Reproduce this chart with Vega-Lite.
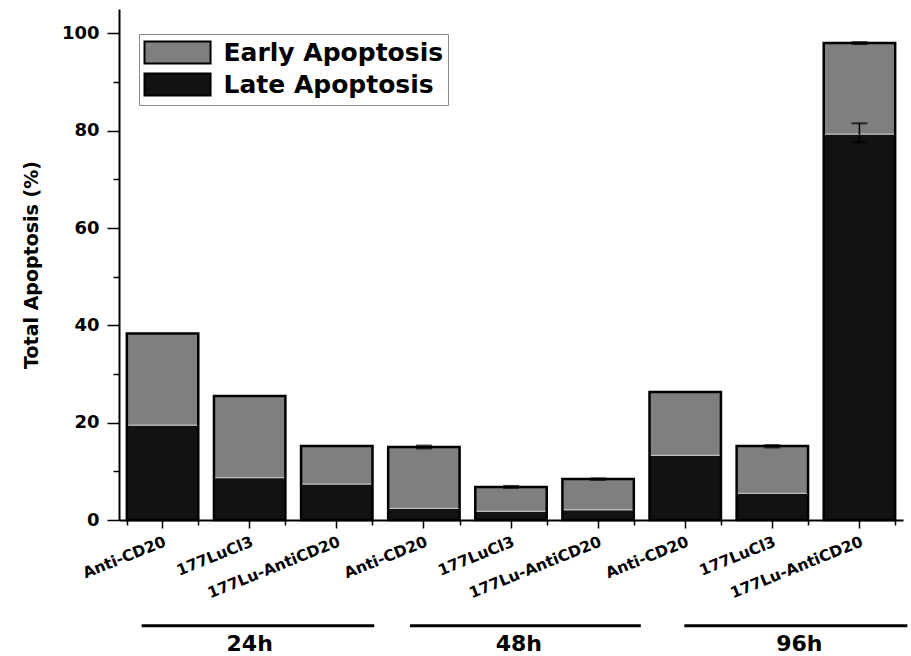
{
  "$schema": "https://vega.github.io/schema/vega-lite/v6.json",
  "padding": {"left": 22, "top": 9, "right": 0, "bottom": 0},
  "background": "white",
  "spacing": 0,
  "config": {
    "view": {"stroke": null},
    "font": "DejaVu Sans",
    "axis": {"domainColor": "black", "tickColor": "black", "labelColor": "black", "titleColor": "black", "labelFont": "DejaVu Sans", "titleFont": "DejaVu Sans", "labelFontWeight": "bold", "titleFontWeight": "bold", "grid": false, "domainWidth": 2, "tickWidth": 1.5}
  },
  "datasets": {
    "segments": [
      {"bar": "Anti-CD20|24h", "type": "Late Apoptosis", "value": 19.5},
      {"bar": "Anti-CD20|24h", "type": "Early Apoptosis", "value": 18.8},
      {"bar": "177LuCl3|24h", "type": "Late Apoptosis", "value": 8.7},
      {"bar": "177LuCl3|24h", "type": "Early Apoptosis", "value": 16.8},
      {"bar": "177Lu-AntiCD20|24h", "type": "Late Apoptosis", "value": 7.4},
      {"bar": "177Lu-AntiCD20|24h", "type": "Early Apoptosis", "value": 7.8},
      {"bar": "Anti-CD20|48h", "type": "Late Apoptosis", "value": 2.4},
      {"bar": "Anti-CD20|48h", "type": "Early Apoptosis", "value": 12.6},
      {"bar": "177LuCl3|48h", "type": "Late Apoptosis", "value": 1.8},
      {"bar": "177LuCl3|48h", "type": "Early Apoptosis", "value": 5.0},
      {"bar": "177Lu-AntiCD20|48h", "type": "Late Apoptosis", "value": 2.1},
      {"bar": "177Lu-AntiCD20|48h", "type": "Early Apoptosis", "value": 6.3},
      {"bar": "Anti-CD20|96h", "type": "Late Apoptosis", "value": 13.3},
      {"bar": "Anti-CD20|96h", "type": "Early Apoptosis", "value": 13.0},
      {"bar": "177LuCl3|96h", "type": "Late Apoptosis", "value": 5.5},
      {"bar": "177LuCl3|96h", "type": "Early Apoptosis", "value": 9.7},
      {"bar": "177Lu-AntiCD20|96h", "type": "Late Apoptosis", "value": 79.3},
      {"bar": "177Lu-AntiCD20|96h", "type": "Early Apoptosis", "value": 18.7}
    ],
    "errors": [
      {"bar": "Anti-CD20|48h", "lo": 14.7, "hi": 15.3},
      {"bar": "177LuCl3|48h", "lo": 6.6, "hi": 7.0},
      {"bar": "177Lu-AntiCD20|48h", "lo": 8.25, "hi": 8.55},
      {"bar": "177LuCl3|96h", "lo": 14.9, "hi": 15.4},
      {"bar": "177Lu-AntiCD20|96h", "lo": 97.8, "hi": 98.2},
      {"bar": "177Lu-AntiCD20|96h", "lo": 77.6, "hi": 81.5}
    ],
    "groups": [
      {"group": "24h", "start": 0.26, "end": 2.93, "mid": 1.5},
      {"group": "48h", "start": 3.34, "end": 5.99, "mid": 4.59},
      {"group": "96h", "start": 6.49, "end": 9.05, "mid": 7.81}
    ]
  },
  "vconcat": [
    {
      "width": 784,
      "height": 511,
      "resolve": {"axis": {"x": "independent", "y": "independent"}},
      "layer": [
        {
          "data": {"name": "segments"},
          "mark": {"type": "bar", "stroke": "#c8c8c8", "strokeWidth": 1},
          "encoding": {
            "x": {
              "field": "bar", "type": "nominal",
              "scale": {"domain": ["Anti-CD20|24h", "177LuCl3|24h", "177Lu-AntiCD20|24h", "Anti-CD20|48h", "177LuCl3|48h", "177Lu-AntiCD20|48h", "Anti-CD20|96h", "177LuCl3|96h", "177Lu-AntiCD20|96h"], "paddingInner": 0.18, "paddingOuter": 0.09},
              "axis": {"orient": "bottom", "title": null, "labelExpr": "split(datum.label, '|')[0]", "labelAngle": -22, "labelFontSize": 15.5, "tickSize": 8, "labelPadding": 6, "domainWidth": 2}
            },
            "y": {
              "field": "value", "type": "quantitative", "stack": "zero", "title": "Total Apoptosis (%)",
              "scale": {"domain": [0, 105], "nice": false},
              "axis": {"orient": "left", "title": "Total Apoptosis (%)", "titleFontSize": 19, "titlePadding": 20, "values": [0, 20, 40, 60, 80, 100], "labelFontSize": 18, "tickSize": 12, "labelPadding": 8}
            },
            "color": {
              "field": "type", "type": "nominal",
              "scale": {"domain": ["Early Apoptosis", "Late Apoptosis"], "range": ["#7f7f7f", "#121212"]},
              "legend": {
                "title": null, "orient": "none", "legendX": 20, "legendY": 25,
                "symbolType": "M-1,-0.85H4.08V0.85H-1Z", "symbolSize": 676, "symbolStrokeColor": "black", "symbolStrokeWidth": 2, "symbolOpacity": 1,
                "labelFontSize": 25, "labelFont": "DejaVu Sans", "labelFontWeight": "bold", "labelColor": "black", "labelOffset": 52, "labelLimit": 500,
                "rowPadding": 0, "padding": 4.5, "strokeColor": "#8a8a8a", "fillColor": "white", "cornerRadius": 0
              }
            },
            "order": {"field": "type", "sort": "descending"}
          }
        },
        {
          "data": {"name": "segments"},
          "mark": {"type": "bar", "fill": "transparent", "stroke": "black", "strokeWidth": 2.5},
          "encoding": {
            "x": {"field": "bar", "type": "nominal", "axis": null},
            "y": {"aggregate": "sum", "field": "value", "type": "quantitative", "title": "Total Apoptosis (%)", "axis": null}
          }
        },
        {
          "data": {"name": "errors"},
          "mark": {"type": "errorbar", "ticks": {"size": 16, "thickness": 2, "color": "black"}, "rule": {"color": "black", "strokeWidth": 1.5}},
          "encoding": {
            "x": {"field": "bar", "type": "nominal", "axis": null},
            "y": {"field": "lo", "type": "quantitative", "title": "Total Apoptosis (%)", "axis": null},
            "y2": {"field": "hi"}
          }
        },
        {
          "data": {"name": "errors"},
          "mark": {"type": "point", "opacity": 0},
          "encoding": {
            "x": {"field": "bar", "type": "nominal", "axis": {"orient": "bottom", "tickBand": "extent", "labels": false, "domain": false, "tickSize": 5, "title": null}},
            "y": {"field": "lo", "type": "quantitative", "axis": {"orient": "left", "values": [10, 30, 50, 70, 90], "labels": false, "domain": false, "tickSize": 6, "title": null}}
          }
        }
      ]
    },
    {
      "width": 784,
      "height": 54,
      "data": {"name": "groups"},
      "layer": [
        {
          "mark": {"type": "rule", "strokeWidth": 3, "color": "black"},
          "encoding": {
            "x": {"field": "start", "type": "quantitative", "scale": {"domain": [0, 9], "nice": false, "zero": false}, "axis": null},
            "x2": {"field": "end"},
            "y": {"datum": 0.56, "type": "quantitative", "scale": {"domain": [0, 1]}, "axis": null}
          }
        },
        {
          "mark": {"type": "text", "fontSize": 22, "fontWeight": "bold", "font": "DejaVu Sans", "color": "black", "baseline": "bottom"},
          "encoding": {
            "x": {"field": "mid", "type": "quantitative"},
            "y": {"datum": 0.0, "type": "quantitative"},
            "text": {"field": "group"}
          }
        }
      ]
    }
  ]
}
